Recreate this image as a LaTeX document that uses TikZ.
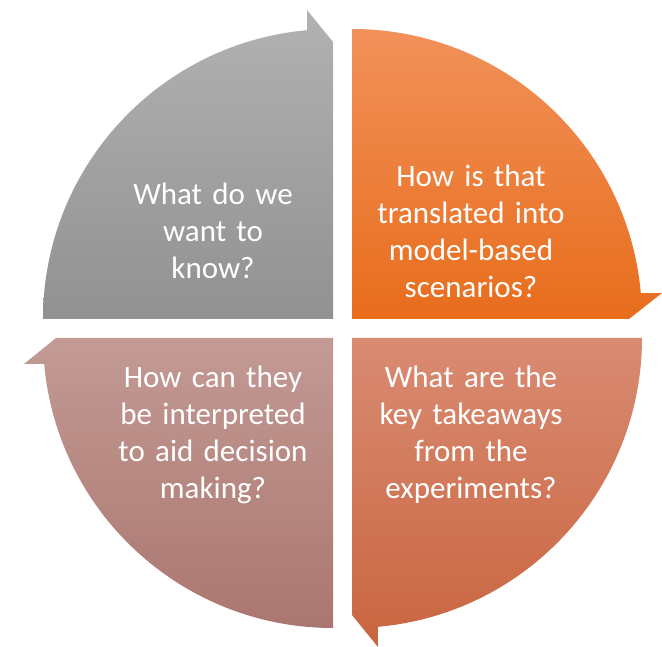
\documentclass[tikz,border=0pt]{standalone}
\usepackage{fontspec}
\setmainfont{Carlito}
\begin{document}
\begin{tikzpicture}[x=1pt,y=-1pt]
\tikzset{
  seg/.style={draw=none},
  lbl/.style={text=white, align=center, text width=280pt, inner sep=0pt,
    anchor=base, font=\fontsize{31}{36.8}\selectfont}
}
\useasboundingbox (0,0) rectangle (662,647);
% top-left (gray)
\shade[seg, top color={rgb,255:red,178;green,178;blue,178}, bottom color={rgb,255:red,145;green,145;blue,145}]
  (43,319) arc[start angle=180, end angle=264.86, radius=290]
  -- (307,10) -- (333,42) -- (333,319) -- cycle;
% top-right (orange)
\shade[seg, top color={rgb,255:red,241;green,145;blue,90}, bottom color={rgb,255:red,232;green,109;blue,28}]
  (352,29) arc[start angle=270, end angle=354.86, radius=290]
  -- (662,293) -- (629,319) -- (352,319) -- cycle;
% bottom-right (salmon)
\shade[seg, top color={rgb,255:red,217;green,139;blue,115}, bottom color={rgb,255:red,201;green,101;blue,63}]
  (642,338) arc[start angle=0, end angle=84.86, radius=290]
  -- (378,647) -- (352,615) -- (352,338) -- cycle;
% bottom-left (dusty pink)
\shade[seg, top color={rgb,255:red,195;green,154;blue,148}, bottom color={rgb,255:red,171;green,118;blue,112}]
  (333,628) arc[start angle=90, end angle=174.86, radius=290]
  -- (24,364) -- (56,338) -- (333,338) -- cycle;
\node[lbl] (t1) at (213,205) {What do we\\want to\\know?};
\node[lbl] (t2) at (471,187) {How is that\\translated into\\model-based\\scenarios?};
\node[lbl] (t3) at (213,388) {How can they\\be interpreted\\to aid decision\\making?};
\node[lbl] (t4) at (471,388) {What are the\\key takeaways\\from the\\experiments?};
\end{tikzpicture}
\end{document}
